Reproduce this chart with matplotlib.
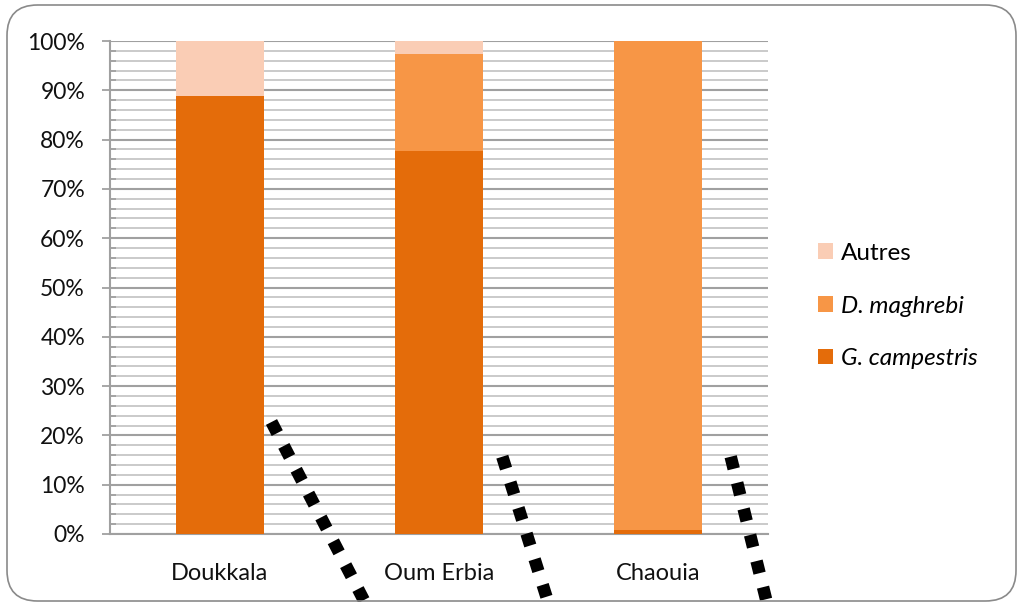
import matplotlib
matplotlib.use("Agg")
import matplotlib.pyplot as plt
import numpy as np
from matplotlib.patches import FancyBboxPatch, Patch
from matplotlib.lines import Line2D
from matplotlib.ticker import MultipleLocator, FuncFormatter

plt.rcParams['font.family'] = ['Lato', 'DejaVu Sans']

categories = ["Doukkala", "Oum Erbia", "Chaouia"]
g_campestris = [88.8, 77.7, 0.8]
d_maghrebi = [0.0, 19.7, 99.2]
autres = [11.2, 2.6, 0.0]
series_names = ["G. campestris", "D. maghrebi", "Autres"]
colors = ["#E46C0A", "#F79646", "#FACDB5"]

W, H = 1017, 602
fig = plt.figure(figsize=(W / 100, H / 100), dpi=100)
ax = fig.add_axes([110 / W, 1 - 534 / H, (768 - 110) / W, (534 - 41) / H])

x = np.arange(len(categories))
bottom = np.zeros(len(categories))
handles = []
for vals, name, col in zip([g_campestris, d_maghrebi, autres], series_names, colors):
    ax.bar(x, vals, width=0.4, bottom=bottom, color=col, zorder=3, linewidth=0)
    bottom += np.array(vals)
    handles.append(Patch(facecolor=col, edgecolor='none', label=name))

ax.set_xlim(-0.5, len(categories) - 0.5)
ax.set_ylim(0, 100)
ax.yaxis.set_major_locator(MultipleLocator(10))
ax.yaxis.set_minor_locator(MultipleLocator(2))
ax.yaxis.set_major_formatter(FuncFormatter(lambda v, p: f"{int(round(v))}%"))
ax.grid(axis='y', which='minor', color='#c6c6c6', linewidth=1.3, zorder=0)
ax.grid(axis='y', which='major', color='#a0a0a0', linewidth=1.5, zorder=1)
ax.set_xticks(x)
ax.set_xticklabels(categories, fontsize=17, color='#111111')
ax.tick_params(axis='x', length=0, pad=21)
ax.tick_params(axis='y', which='major', length=6, width=1.3, color='#a0a0a0',
               direction='out', pad=12, labelsize=16.5, labelcolor='#111111')
ax.tick_params(axis='y', which='minor', length=4, width=1.3, color='#a0a0a0', direction='in')
for s in ['top', 'right']:
    ax.spines[s].set_visible(False)
ax.spines['left'].set_color('#a0a0a0')
ax.spines['left'].set_linewidth(1.5)
ax.spines['bottom'].set_color('#a0a0a0')
ax.spines['bottom'].set_linewidth(1.5)

leg = fig.legend(handles=handles[::-1], loc='center left',
                 bbox_to_anchor=(808 / W, 1 - 306 / H), frameon=False,
                 fontsize=17.5, handlelength=0.62, handleheight=0.62,
                 handletextpad=0.33, labelspacing=1.3, borderaxespad=0)
for t in leg.get_texts():
    if t.get_text() != "Autres":
        t.set_fontstyle('italic')

# dotted decorative lines
def px(xp, yp):
    return xp / W, 1 - yp / H

for (x0, y0), (x1, y1) in [((271.5, 422), (368.9, 610)),
                           ((502.3, 456.7), (550.6, 610)),
                           ((730.7, 456.7), (768.7, 610))]:
    a, b = px(x0, y0)
    c, d = px(x1, y1)
    ln = Line2D([a, c], [b, d], transform=fig.transFigure, color='black',
                linewidth=9, solid_capstyle='butt', dash_capstyle='butt',
                dashes=(1, 1.15), zorder=10)
    fig.add_artist(ln)

border = FancyBboxPatch(px(7, 601), (1016 - 7) / W, (601 - 5) / H,
                        boxstyle="round,pad=0,rounding_size=0.03",
                        transform=fig.transFigure, facecolor='none',
                        edgecolor='#8a8a8a', linewidth=1.2, zorder=20,
                        mutation_aspect=W / H)
fig.add_artist(border)

fig.savefig("out.png", dpi=100)
